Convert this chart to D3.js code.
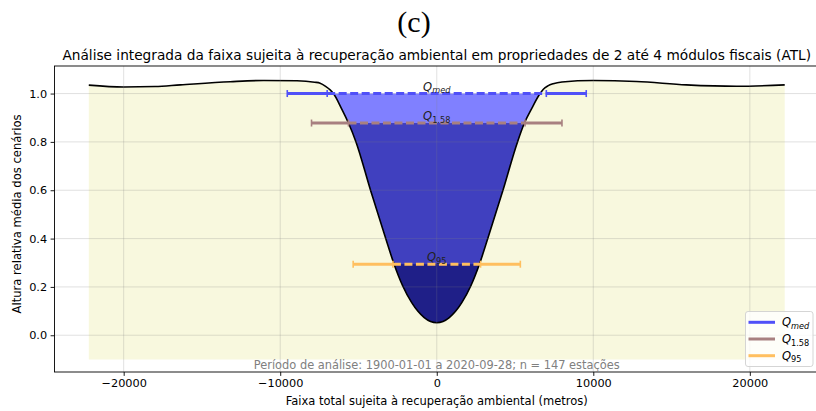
<!DOCTYPE html>
<html>
<head>
<meta charset="utf-8">
<script src="https://cdn.jsdelivr.net/npm/d3@7"></script>
<style>
  html, body { margin: 0; padding: 0; background: #ffffff; }
  svg { display: block; font-family: "DejaVu Sans", sans-serif; }
</style>
</head>
<body>
<svg id="chart" width="816" height="411"></svg>
<script>
// Mean relative height profile across the strip (metres from the centre)
const profileX = [-22230, -20000, -18000, -16380, -13190, -11080, -8930, -7800, -7450, -7100, -6810, -6600,
  -6100, -5640, -5160, -4230, -3260, -2725, -2180, -1600, -1200, -800, -400, 0,
  400, 800, 1200, 1600, 2180, 2725, 3260, 4230, 5160, 5600, 6080, 6600,
  6810, 7100, 7440, 8000, 9990, 12760, 15950, 19140, 22230];
const profileY = [1.035, 1.027, 1.029, 1.036, 1.049, 1.054, 1.053, 1.047, 1.043, 1.030, 1.015, 1.000,
  0.940, 0.878, 0.800, 0.600, 0.400, 0.294, 0.205, 0.135, 0.099, 0.073, 0.057, 0.052,
  0.057, 0.073, 0.099, 0.135, 0.205, 0.294, 0.400, 0.600, 0.800, 0.878, 0.940, 1.000,
  1.018, 1.032, 1.041, 1.048, 1.054, 1.050, 1.036, 1.030, 1.036];

// Flow scenarios: level, half-width at the level, half-width of the range bar
const scenarioNames = ["med", "1.58", "95"];
const scenarioLevels = [1.0, 0.878, 0.294];
const scenarioInner = [7000, 5640, 2800];
const scenarioOuter = [9550, 8000, 5340];
const scenarioColors = ["#5050f8", "#a88080", "#ffbf5f"];
const fillColors = ["#8080ff", "#4040bf", "#1f1f88"];

const xTicks = [-20000, -10000, 0, 10000, 20000];
const yTicks = [0.0, 0.2, 0.4, 0.6, 0.8, 1.0];
const baseLevel = -0.1;

const svg = d3.select("#chart");
const axLeft = 54.5, axRight = 819, axTop = 66, axBottom = 372;

const x = d3.scaleLinear().domain([-24420, 24420]).range([axLeft, axRight]);
const y = d3.scaleLinear().domain([-0.152, 1.114]).range([axBottom, axTop]);

const profile = profileX.map((d, i) => ({ x: d, y: profileY[i] }));
const curve = d3.curveMonotoneX;

// Clip to the axes area
svg.append("clipPath").attr("id", "axclip")
  .append("rect").attr("x", axLeft).attr("y", axTop).attr("width", axRight - axLeft).attr("height", axBottom - axTop);

// Region above the profile, used to cut the level fills
svg.append("clipPath").attr("id", "aboveProfile")
  .append("path")
  .datum(profile)
  .attr("d", d3.area().x(d => x(d.x)).y0(0).y1(d => y(d.y)).curve(curve));

const plot = svg.append("g").attr("clip-path", "url(#axclip)");

// Background area under the profile
plot.append("path")
  .datum(profile)
  .attr("fill", "#f8f8de")
  .attr("d", d3.area().x(d => x(d.x)).y0(y(baseLevel)).y1(d => y(d.y)).curve(curve));

// Filled regions between the profile and each scenario level
const fills = plot.append("g").attr("clip-path", "url(#aboveProfile)");
scenarioLevels.forEach((lv, i) => {
  fills.append("rect")
    .attr("x", x(profileX[0])).attr("width", x(profileX[profileX.length - 1]) - x(profileX[0]))
    .attr("y", y(lv)).attr("height", axBottom - y(lv))
    .attr("fill", fillColors[i]);
});

// Grid
const grid = svg.append("g").attr("stroke", "rgba(128,128,128,0.3)").attr("stroke-width", 0.8);
xTicks.forEach(t => grid.append("line").attr("x1", x(t)).attr("x2", x(t)).attr("y1", axTop).attr("y2", axBottom));
yTicks.forEach(t => grid.append("line").attr("x1", axLeft).attr("x2", axRight).attr("y1", y(t)).attr("y2", y(t)));

// Profile line
plot.append("path")
  .datum(profile)
  .attr("fill", "none")
  .attr("stroke", "#000")
  .attr("stroke-width", 1.6)
  .attr("d", d3.line().x(d => x(d.x)).y(d => y(d.y)).curve(curve));

// Scenario range bars and dashed level widths
scenarioLevels.forEach((lv, i) => {
  const g = svg.append("g").attr("stroke", scenarioColors[i]);
  const yy = y(lv);
  [-1, 1].forEach(s => {
    g.append("line")
      .attr("x1", x(s * scenarioInner[i])).attr("x2", x(s * scenarioOuter[i]))
      .attr("y1", yy).attr("y2", yy).attr("stroke-width", 3);
    [scenarioInner[i], scenarioOuter[i]].forEach(v => {
      g.append("line")
        .attr("x1", x(s * v)).attr("x2", x(s * v))
        .attr("y1", yy - 3.5).attr("y2", yy + 3.5).attr("stroke-width", 1.6);
    });
  });
  g.append("line")
    .attr("x1", x(-scenarioInner[i])).attr("x2", x(scenarioInner[i]))
    .attr("y1", yy).attr("y2", yy)
    .attr("stroke-width", 3)
    .attr("stroke-dasharray", "8,3.5");
});

// Scenario labels
scenarioLevels.forEach((lv, i) => {
  const t = svg.append("text")
    .attr("x", x(0)).attr("y", y(lv) - 3)
    .attr("text-anchor", "middle")
    .attr("font-size", 11.5)
    .attr("fill", "#222");
  t.append("tspan").attr("font-style", "italic").text("Q");
  t.append("tspan").attr("font-size", 8.2).attr("dy", 2.5)
    .attr("font-style", i === 0 ? "italic" : "normal").text(scenarioNames[i]);
});

// Axes frame
svg.append("rect")
  .attr("x", axLeft).attr("y", axTop).attr("width", axRight - axLeft).attr("height", axBottom - axTop)
  .attr("fill", "none").attr("stroke", "#000").attr("stroke-width", 0.9);

// Axes with ticks
const fmtX = d => d3.format("d")(d).replace("-", "\u2212");
const xAxis = svg.append("g").attr("transform", `translate(0,${axBottom})`)
  .call(d3.axisBottom(x).tickValues(xTicks).tickFormat(fmtX).tickSizeOuter(0).tickSize(3.9).tickPadding(3.5));
const yAxis = svg.append("g").attr("transform", `translate(${axLeft},0)`)
  .call(d3.axisLeft(y).tickValues(yTicks).tickFormat(d3.format(".1f")).tickSizeOuter(0).tickSize(3.9).tickPadding(3.5));
[xAxis, yAxis].forEach(a => {
  a.select(".domain").remove();
  a.selectAll("text").attr("font-size", 11.3).attr("font-family", "DejaVu Sans").attr("fill", "#000");
  a.selectAll("line").attr("stroke-width", 0.9);
});

// Note on the analysed period
svg.append("text")
  .attr("x", x(0)).attr("y", 368.5)
  .attr("text-anchor", "middle")
  .attr("font-size", 11.4)
  .attr("fill", "#808080")
  .text("Período de análise: 1900-01-01 a 2020-09-28; n = 147 estações");

// Axis labels
svg.append("text")
  .attr("x", x(0)).attr("y", 404.5)
  .attr("text-anchor", "middle").attr("font-size", 11.5)
  .text("Faixa total sujeita à recuperação ambiental (metros)");
svg.append("text")
  .attr("transform", `translate(21,214) rotate(-90)`)
  .attr("text-anchor", "middle").attr("font-size", 11.6)
  .text("Altura relativa média dos cenários");

// Titles
svg.append("text")
  .attr("x", x(0)).attr("y", 60)
  .attr("text-anchor", "middle").attr("font-size", 13.7)
  .text("Análise integrada da faixa sujeita à recuperação ambiental em propriedades de 2 até 4 módulos fiscais (ATL)");
svg.append("text")
  .attr("x", 414).attr("y", 32)
  .attr("text-anchor", "middle").attr("font-size", 30)
  .attr("font-family", "Liberation Serif, serif")
  .text("(c)");

// Legend
const lg = svg.append("g");
lg.append("rect")
  .attr("x", 745.5).attr("y", 311.5).attr("width", 67.5).attr("height", 55).attr("rx", 2.5)
  .attr("fill", "rgba(255,255,255,0.8)").attr("stroke", "#d0d0d0").attr("stroke-width", 0.9);
scenarioNames.forEach((n, i) => {
  const ly = 322.3 + i * 16.7;
  lg.append("line").attr("x1", 748.5).attr("x2", 775).attr("y1", ly).attr("y2", ly)
    .attr("stroke", scenarioColors[i]).attr("stroke-width", 3);
  const t = lg.append("text").attr("x", 782).attr("y", ly + 4).attr("font-size", 11.5).attr("fill", "#000");
  t.append("tspan").attr("font-style", "italic").text("Q");
  t.append("tspan").attr("font-size", 8.2).attr("dy", 2.5)
    .attr("font-style", i === 0 ? "italic" : "normal").text(n);
});
</script>
</body>
</html>
